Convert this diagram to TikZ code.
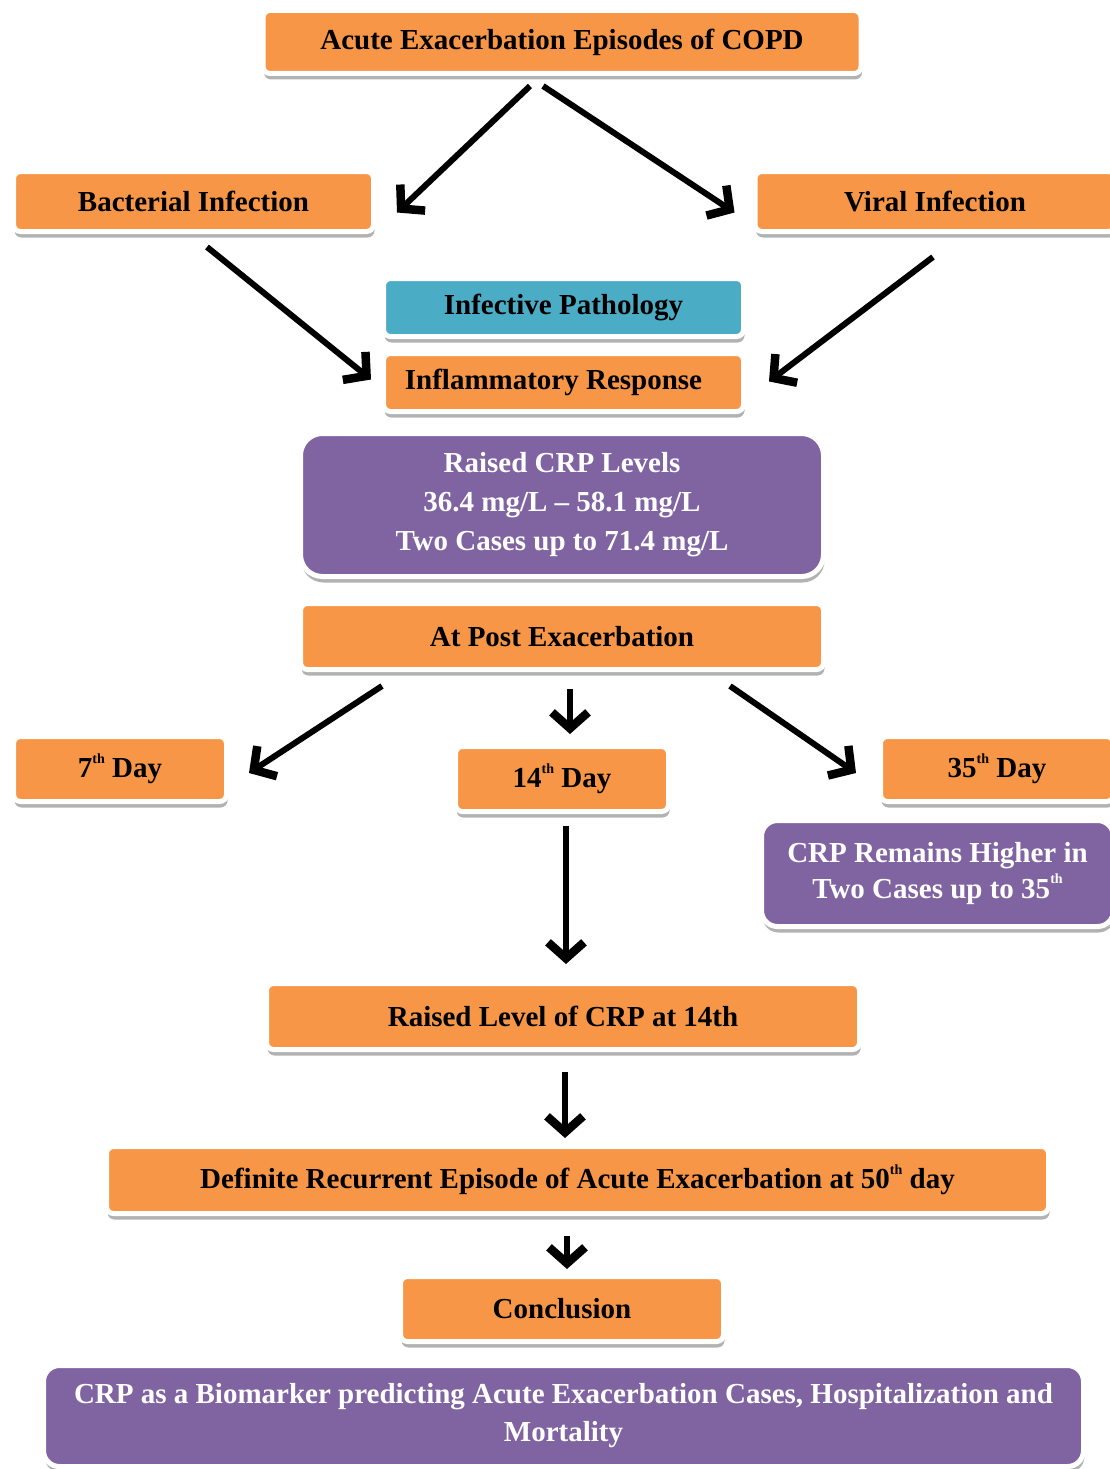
\documentclass[tikz,border=0pt]{standalone}
\usepackage{fontspec}
\setmainfont{Liberation Serif}
\usetikzlibrary{arrows.meta,shadows,calc}
\definecolor{orng}{HTML}{F79646}
\definecolor{purp}{HTML}{8064A2}
\definecolor{tealbox}{HTML}{4BACC6}
\newcommand\thsup{\raisebox{0.5em}{\fontsize{14}{14}\selectfont th}}
\tikzset{
 base/.style={draw=white, line width=5pt, rounded corners=7pt, inner sep=0pt, align=center,
   font=\fontsize{29}{37}\selectfont\bfseries,
   general shadow={fill=black!30, shadow xshift=1pt, shadow yshift=-6pt}},
 obox/.style={base, fill=orng, text=black},
 pbox/.style={base, fill=purp, text=white, rounded corners=22pt},
 tbox/.style={base, fill=tealbox, text=black},
 arr/.style={line width=6pt, -{Straight Barb[length=16pt,width=36pt,line width=8.5pt]}},
}
\begin{document}
\begin{tikzpicture}[x=1pt,y=-1pt]
\useasboundingbox (0,0) rectangle (1110,1469);
\node[obox, minimum width=598, minimum height=63] (acute) at (562,42) {Acute Exacerbation Episodes of COPD};
\node[obox, minimum width=360, minimum height=60] (bact) at (193.5,201.5) {Bacterial Infection};
\node[obox, minimum width=360, minimum height=60] (viral) at (935,201.5) {Viral Infection};
\node[tbox, minimum width=360, minimum height=58] (infect) at (563.5,307.5) {Infective Pathology};
\node[obox, minimum width=360, minimum height=58] (infl) at (563.5,382.5) {\hspace*{-20pt}Inflammatory Response};
\node[pbox, minimum width=523, minimum height=143, font=\fontsize{29}{39}\selectfont\bfseries] (raised) at (562,505) {Raised CRP Levels\\36.4 mg/L -- 58.1 mg/L\\Two Cases up to 71.4 mg/L};
\node[obox, minimum width=523, minimum height=66] (atpost) at (562,636.5) {At Post Exacerbation};
\node[obox, minimum width=213, minimum height=65] (d7) at (120,769) {7\thsup{} Day};
\node[obox, minimum width=213, minimum height=65] (d14) at (562,779) {14\thsup{} Day};
\node[obox, minimum width=233, minimum height=65] (d35) at (997,769) {35\thsup{} Day};
\node[pbox, minimum width=352, minimum height=106, rounded corners=16pt, font=\fontsize{29}{36}\selectfont\bfseries] (remains) at (937.5,873.5) {CRP Remains Higher in\\Two Cases up to 35\thsup};
\node[obox, minimum width=593, minimum height=66] (rl) at (563,1016.5) {Raised Level of CRP at 14th};
\node[obox, minimum width=942, minimum height=67] (def) at (577.5,1180) {Definite Recurrent Episode of Acute Exacerbation at 50\thsup{} day};
\node[obox, minimum width=323, minimum height=65] (concl) at (562,1309) {Conclusion};
\node[pbox, minimum width=1040, minimum height=101, rounded corners=16pt, font=\fontsize{29}{38}\selectfont\bfseries] (bio) at (563.5,1416) {CRP as a Biomarker predicting Acute Exacerbation Cases, Hospitalization and\\Mortality};

\draw[arr] ($(acute.south)+(-32,10)$) -- ($(bact.east)+(21,11)$);
\draw[arr] ($(acute.south)+(-19,10)$) -- ($(viral.west)+(-18,11)$);
\draw[arr] ($(bact.south)+(13.5,13)$) -- ($(infl.west)+(-10,-3)$);
\draw[arr] ($(viral.south)+(-2,23)$) -- ($(infl.east)+(23,-1)$);
\draw[arr] ($(atpost.south)+(-180,14)$) -- ($(d7.east)+(20,4)$);
\draw[arr] ($(atpost.south)+(8,17)$) -- ($(d14.north)+(8,-10)$);
\draw[arr] ($(atpost.south)+(168,14)$) -- ($(d35.west)+(-22,4)$);
\draw[arr] ($(d14.south)+(4,12)$) -- ($(rl.north)+(3,-17)$);
\draw[arr] ($(rl.south)+(2,20)$) -- ($(def.north)+(-12.5,-6)$);
\draw[arr] ($(def.south)+(-10.5,20)$) -- ($(concl.north)+(5,-5)$);
\end{tikzpicture}
\end{document}
